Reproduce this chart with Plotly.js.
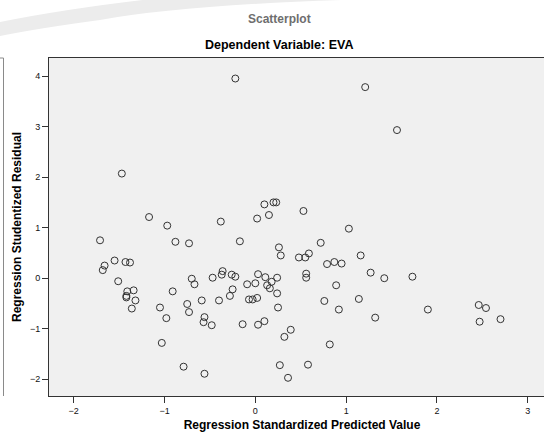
<!DOCTYPE html>
<html>
<head>
<meta charset="utf-8">
<script src="https://cdn.plot.ly/plotly-3.0.1.min.js"></script>
<style>
  html, body { margin: 0; padding: 0; overflow: hidden; background: #ffffff; }
  #scatter-plot { width: 556px; height: 436px; }
</style>
</head>
<body>
<div id="scatter-plot"></div>
<script>
// values
var predictedValue = [
  -1.71, -0.97, -0.88, -0.73, -1.55, -1.66, -1.68, -1.43, -1.38, -1.51,
  -1.41, -1.34, -1.42, -1.42, -1.32, -1.36, -0.91, -0.70, -0.67, -0.47,
  -0.59, -0.40, -1.05, -0.75, -0.73, -0.98, -0.56, -0.57, -0.48, -1.03,
  -0.79, -0.56, -0.22, -1.47, -1.17, -0.38, 0.02, 0.10, 0.15, 0.20,
  0.23, 1.21, 1.56, 0.53, 1.03, -0.17, 0.26, 0.28, 0.72, 0.48,
  0.55, 0.59, 1.16, 0.79, 0.87, 0.95, 1.27, -0.36, -0.37, -0.26,
  -0.22, 0.03, 0.11, 0.24, 0.18, 0.13, 0.16, -0.09, 0.00, 0.56,
  0.56, 0.89, 0.24, -0.25, -0.28, -0.07, -0.03, 0.02, 0.25, 0.76,
  1.14, 0.92, 1.32, -0.14, 0.03, 0.10, 0.39, 0.32, 0.82, 0.27,
  0.58, 0.36, 1.42, 1.73, 1.90, 2.46, 2.54, 2.47, 2.70
];
var studentizedResidual = [
  0.75, 1.04, 0.72, 0.69, 0.35, 0.25, 0.16, 0.32, 0.31, -0.06,
  -0.26, -0.24, -0.38, -0.35, -0.44, -0.60, -0.26, -0.01, -0.12, 0.01,
  -0.44, -0.44, -0.58, -0.51, -0.67, -0.79, -0.77, -0.87, -0.93, -1.28,
  -1.75, -1.89, 3.95, 2.07, 1.21, 1.12, 1.18, 1.46, 1.25, 1.50,
  1.50, 3.78, 2.93, 1.33, 0.98, 0.73, 0.61, 0.45, 0.70, 0.41,
  0.41, 0.49, 0.45, 0.28, 0.32, 0.29, 0.11, 0.14, 0.07, 0.07,
  0.03, 0.08, 0.02, 0.01, -0.07, -0.14, -0.20, -0.12, -0.10, 0.09,
  0.01, -0.14, -0.30, -0.22, -0.35, -0.42, -0.42, -0.39, -0.58, -0.45,
  -0.41, -0.62, -0.78, -0.91, -0.92, -0.85, -1.02, -1.16, -1.31, -1.72,
  -1.71, -1.97, 0.00, 0.03, -0.62, -0.53, -0.59, -0.86, -0.81
];
var xTicks = [-2, -1, 0, 1, 2, 3];
var yTicks = [-2, -1, 0, 1, 2, 3, 4];

// plot area in page pixels, used only to place the decorations
var plotLeft = 49, plotRight = 555, plotTop = 58, plotBottom = 396;
function paperX(px) { return (px - plotLeft) / (plotRight - plotLeft); }
function paperY(py) { return (plotBottom - py) / (plotBottom - plotTop); }

// faint swoosh in the top left corner
var swoosh = "M" + paperX(0) + "," + paperY(22) +
  " Q" + paperX(70) + "," + paperY(8) + " " + paperX(160) + "," + paperY(-2) +
  " L" + paperX(420) + "," + paperY(-2) +
  " Q" + paperX(200) + "," + paperY(2) + " " + paperX(100) + "," + paperY(20) +
  " Q" + paperX(40) + "," + paperY(28) + " " + paperX(0) + "," + paperY(36) + " Z";

var trace1 = {
    x: predictedValue,
    y: studentizedResidual,
    mode: "markers",
    type: "scatter",
    marker: { symbol: "circle-open", size: 7, color: "#333333", line: { width: 1, color: "#333333" } },
    hoverinfo: "x+y",
    showlegend: false
};

var layout = {
    width: 556,
    height: 436,
    margin: { l: plotLeft, r: 556 - plotRight, t: plotTop, b: 436 - plotBottom },
    paper_bgcolor: "#ffffff",
    plot_bgcolor: "#f0f0f0",
    font: { family: "Liberation Sans, Arial, sans-serif", size: 9, color: "#111111" },
    xaxis: {
        range: [-2.272, 3.30],
        tickvals: xTicks,
        ticks: "outside", ticklen: 6, tickcolor: "#333333",
        showgrid: false, zeroline: false,
        showline: true, mirror: true, linecolor: "#333333", linewidth: 1,
        tickfont: { size: 9, color: "#111111" },
        title: { text: "Regression Standardized Predicted Value", standoff: 5,
                 font: { size: 12, color: "#000000", family: "Liberation Sans, Arial, sans-serif", weight: "bold" } }
    },
    yaxis: {
        range: [-2.33, 4.356],
        tickvals: yTicks,
        ticks: "outside", ticklen: 6, tickcolor: "#333333",
        showgrid: false, zeroline: false,
        showline: true, mirror: true, linecolor: "#333333", linewidth: 1,
        tickfont: { size: 9, color: "#111111" },
        title: { text: "Regression Studentized Residual", standoff: 5,
                 font: { size: 12, color: "#000000", family: "Liberation Sans, Arial, sans-serif", weight: "bold" } }
    },
    annotations: [
        { text: "Scatterplot", xref: "paper", yref: "paper", x: paperX(279), y: paperY(19),
          xanchor: "center", yanchor: "middle", showarrow: false,
          font: { size: 12, color: "#6e6e6e", weight: "bold" } },
        { text: "Dependent Variable: EVA", xref: "paper", yref: "paper", x: paperX(279), y: paperY(45),
          xanchor: "center", yanchor: "middle", showarrow: false,
          font: { size: 12.5, color: "#000000", weight: "bold" } }
    ],
    shapes: [
        { type: "path", xref: "paper", yref: "paper", path: swoosh,
          fillcolor: "#ececec", line: { width: 0 }, layer: "below" },
        { type: "line", xref: "paper", yref: "paper",
          x0: paperX(3.5), x1: paperX(3.5), y0: paperY(58), y1: paperY(396),
          line: { color: "#8a8a8a", width: 1 } },
        { type: "line", xref: "paper", yref: "paper",
          x0: paperX(0), x1: paperX(3.5), y0: paperY(58), y1: paperY(58),
          line: { color: "#8a8a8a", width: 1 } }
    ]
};

Plotly.newPlot("scatter-plot", [trace1], layout, { staticPlot: true, displayModeBar: false });
</script>
</body>
</html>
